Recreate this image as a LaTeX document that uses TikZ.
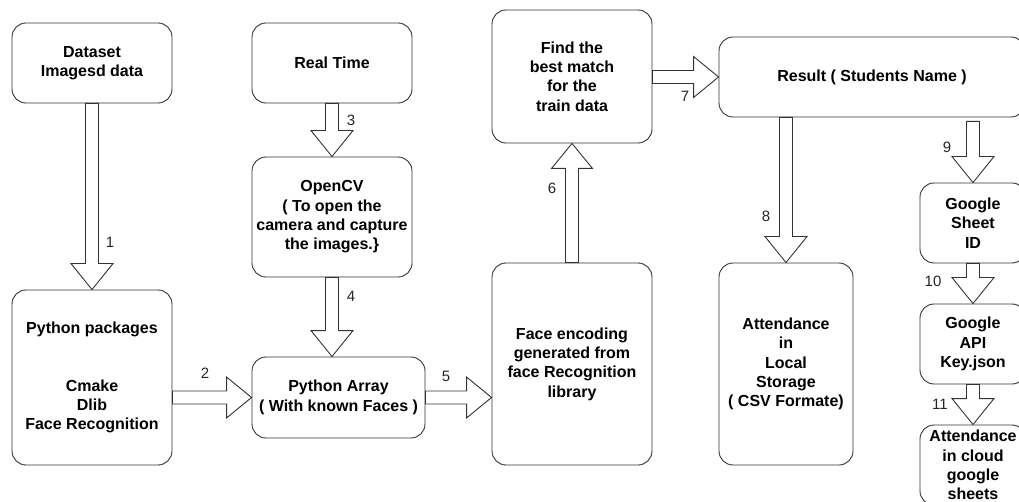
\documentclass[tikz,border=0pt]{standalone}
\usepackage{fontspec}
\setmainfont{Liberation Sans}
\usetikzlibrary{calc}
\tikzset{
  box/.style={draw=black!80, line width=0.9pt, rounded corners=14pt, align=center, inner sep=0pt,
    font=\bfseries\fontsize{16}{19.3}\selectfont},
  blk/.style={draw=black!80, line width=0.9pt, fill=white, line join=miter},
  num/.style={font=\fontsize{15}{18}\selectfont, text=black!85, inner sep=0pt}
}
% block arrows: #1 start, #2 tip
\newcommand{\blkdown}[2]{\draw[blk] let \p1=#1, \p2=#2 in
  (\x1-6.5pt,\y1) -- (\x1-6.5pt,\y2+26pt) -- (\x1-21pt,\y2+26pt) -- (\x1,\y2)
  -- (\x1+21pt,\y2+26pt) -- (\x1+6.5pt,\y2+26pt) -- (\x1+6.5pt,\y1) -- cycle;}
\newcommand{\blkup}[2]{\draw[blk] let \p1=#1, \p2=#2 in
  (\x1-6.5pt,\y1) -- (\x1-6.5pt,\y2-25pt) -- (\x1-20.5pt,\y2-25pt) -- (\x1,\y2)
  -- (\x1+20.5pt,\y2-25pt) -- (\x1+6.5pt,\y2-25pt) -- (\x1+6.5pt,\y1) -- cycle;}
\newcommand{\blkright}[2]{\draw[blk] let \p1=#1, \p2=#2 in
  (\x1,\y1+6.5pt) -- (\x2-25pt,\y1+6.5pt) -- (\x2-25pt,\y1+20.5pt) -- (\x2,\y1)
  -- (\x2-25pt,\y1-20.5pt) -- (\x2-25pt,\y1-6.5pt) -- (\x1,\y1-6.5pt) -- cycle;}
\begin{document}
\begin{tikzpicture}[x=1pt,y=-1pt]
\path[use as bounding box] (0,0) rectangle (1019,502);
\clip (0,0) rectangle (1019,502);
\fill[white] (0,0) rectangle (1019,502);

\node[box, minimum width=160, minimum height=80] (ds) at (92,63) {Dataset\\Imagesd data};
\node[box, minimum width=160, minimum height=175] (pp) at (92,377.5) {Python packages\\[19.3pt]\\Cmake\\Dlib\\Face Recognition};
\node[box, minimum width=160, minimum height=80] (rt) at (332,63) {Real Time};
\node[box, minimum width=160, minimum height=120] (cv) at (332,217) {OpenCV\\( To open the\\camera and capture\\the images.\}};
\node[box, minimum width=173, minimum height=81] (pa) at (338.5,397.5) {Python Array\\( With known Faces )};
\node[box, minimum width=160, minimum height=202] (fe) at (572,364) {Face encoding\\generated from\\face Recognition\\library};
\node[box, minimum width=160, minimum height=133] (fm) at (572,76.5) {Find the\\best match\\for the\\train data};
\node[box, minimum width=306, minimum height=80] (rs) at (872,77) {Result ( Students Name )};
\node[box, minimum width=134, minimum height=202] (ls) at (786,364) {Attendance\\in\\Local\\Storage\\( CSV Formate)};
\node[box, minimum width=106, minimum height=80] (gs) at (973,223) {Google\\Sheet\\ID};
\node[box, minimum width=106, minimum height=80] (ga) at (973,344) {Google\\API\\Key.json};
\node[box, minimum width=106, minimum height=80] (ac) at (973,465) {Attendance\\in cloud\\google\\sheets};

\blkdown{(ds.south)}{(pp.north)}
\blkright{(pp.east |- pa.west)}{(pa.west)}
\blkdown{(rt.south)}{(cv.north)}
\blkdown{(cv.south)}{(cv.south |- pa.north)}
\blkright{(pa.east)}{(fe.west |- pa.east)}
\blkup{(fe.north)}{(fm.south)}
\blkright{(fm.east |- rs.west)}{(rs.west)}
\blkdown{(ls.north |- rs.south)}{(ls.north)}
\blkdown{($(gs.north |- rs.south)+(0,4)$)}{(gs.north)}
\blkdown{(gs.south)}{(ga.north)}
\blkdown{(ga.south)}{(ac.north)}

\node[num] (n1) at (110,242) {1};
\node[num] (n2) at (205,373) {2};
\node[num] (n3) at (351,120) {3};
\node[num] (n4) at (351,296) {4};
\node[num] (n5) at (446,376) {5};
\node[num] (n6) at (552,188) {6};
\node[num] (n7) at (685,96) {7};
\node[num] (n8) at (766,216) {8};
\node[num] (n9) at (947,147) {9};
\node[num] (n10) at (933,281) {10};
\node[num] (n11) at (940,404) {11};
\end{tikzpicture}
\end{document}
